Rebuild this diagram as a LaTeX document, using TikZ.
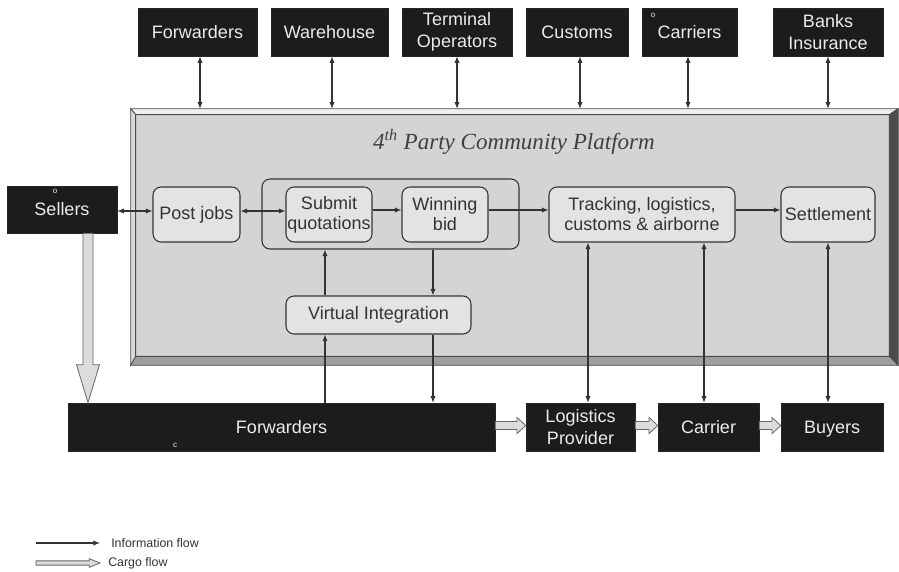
\documentclass[tikz,border=0pt]{standalone}
\usepackage{fontspec}
\setmainfont{Liberation Serif}
\setsansfont{Liberation Sans}
\usetikzlibrary{arrows.meta,calc}

\definecolor{boxdark}{HTML}{1C1C1C}
\definecolor{boxtext}{HTML}{ECECEC}
\definecolor{linegray}{HTML}{333333}
\definecolor{facegray}{HTML}{D4D4D4}
\definecolor{stepfill}{HTML}{E3E3E3}
\definecolor{cargofill}{HTML}{DCDCDC}

\tikzset{
  darkbox/.style={fill=boxdark, draw=black!85, text=boxtext, align=center,
    inner sep=1pt, font=\sffamily\fontsize{13.5}{16}\selectfont},
  stepbox/.style={fill=stepfill, draw=linegray, line width=0.8pt, rounded corners=6pt,
    text=black!80, align=center, inner sep=1pt,
    font=\sffamily\fontsize{13.5}{15}\selectfont},
  info/.style={draw=linegray, line width=0.8pt},
  tip/.style={-{Latex[length=5pt,width=4pt]}},
  bitip/.style={{Latex[length=5pt,width=4pt]}-{Latex[length=5pt,width=4pt]}},
  cargo/.style={fill=cargofill, draw=black!60, line width=0.6pt, line join=miter},
  bevel/.style={draw=black!70, line width=0.6pt},
  tinyglyph/.style={font=\sffamily\fontsize{6}{6}\selectfont, text=boxtext},
  legendtext/.style={anchor=west, font=\sffamily\fontsize{9.3}{11}\selectfont,
    text=black!80, inner sep=0pt},
}

% horizontal cargo arrow from point #1 to point #2
% #3 shaft half height, #4 head half height, #5 head length
\newcommand\cargoflow[5]{%
  \draw[cargo] let \p1=(#1), \p2=(#2) in
    (\x1,\y1+#3) -- (\x2-#5,\y1+#3) -- (\x2-#5,\y1+#4) -- (\x2,\y1)
    -- (\x2-#5,\y1-#4) -- (\x2-#5,\y1-#3) -- (\x1,\y1-#3) -- cycle;}

\begin{document}
\begin{tikzpicture}[x=0.75pt, y=-0.75pt]
\useasboundingbox (0,0) rectangle (899,571);

% ---------- platform with bevelled frame ----------
\node[minimum width=575.25pt, minimum height=192pt, inner sep=0pt] (plat) at (514.5,237) {};
\coordinate (onw) at (plat.north west);
\coordinate (one) at (plat.north east);
\coordinate (osw) at (plat.south west);
\coordinate (ose) at (plat.south east);
\coordinate (inw) at ($(onw)+(5,6)$);
\coordinate (ine) at ($(one)+(-9,6)$);
\coordinate (isw) at ($(osw)+(5,-9)$);
\coordinate (ise) at ($(ose)+(-9,-9)$);
\fill[facegray] (inw) rectangle (ise);
\filldraw[bevel, fill=black!6]  (onw) -- (one) -- (ine) -- (inw) -- cycle;
\filldraw[bevel, fill=black!14] (onw) -- (inw) -- (isw) -- (osw) -- cycle;
\filldraw[bevel, fill=black!70] (one) -- (ose) -- (ise) -- (ine) -- cycle;
\filldraw[bevel, fill=black!38] (osw) -- (isw) -- (ise) -- (ose) -- cycle;
\draw[bevel] (inw) rectangle (ise);

\node[font=\itshape\fontsize{17.3}{20}\selectfont, text=black!75] (title) at (514,142)
  {4\textsuperscript{th} Party Community Platform};

% ---------- partners along the top ----------
\node[darkbox, minimum width=89.25pt, minimum height=36pt] (tfw)  at (197.5,32) {Forwarders};
\node[darkbox, minimum width=87.75pt, minimum height=36pt] (twh)  at (329.5,32) {Warehouse};
\node[darkbox, minimum width=82.5pt,  minimum height=36pt] (tto)  at (457,32)   {Terminal\\Operators};
\node[darkbox, minimum width=76.5pt,  minimum height=36pt] (tcu)  at (577,32)   {Customs};
\node[darkbox, minimum width=71.25pt, minimum height=36pt] (tca)  at (689.5,32) {Carriers};
\node[darkbox, minimum width=82.5pt,  minimum height=36pt] (tbi)  at (828,32)   {Banks\\Insurance};
\node[tinyglyph] (tcamark) at (653,15) {o};

\foreach \n/\x in {tfw/200, twh/332, tto/457, tcu/580, tca/688, tbi/828}
  \draw[info, bitip] (\n.south -| \x,0) -- (plat.north -| \x,0);

% ---------- process steps ----------
\node[darkbox, minimum width=82.5pt, minimum height=35.25pt] (sel) at (62,209.5) {Sellers};
\node[tinyglyph] (selmark) at (55,191) {o};

\node[stepbox, minimum width=192.75pt, minimum height=52.5pt, fill=facegray] (grp) at (390.5,214) {};
\node[stepbox, minimum width=65.25pt, minimum height=41.25pt] (pj)  at (196.5,214.5) {Post jobs};
\node[stepbox, minimum width=64.5pt,  minimum height=41.25pt] (sq)  at (329,214.5)   {Submit\\quotations};
\node[stepbox, minimum width=64.5pt,  minimum height=41.25pt] (wb)  at (445,214.5)   {Winning\\bid};
\node[stepbox, minimum width=139.5pt, minimum height=41.25pt] (trk) at (642,214.5)   {Tracking, logistics,\\customs \& airborne};
\node[stepbox, minimum width=70.5pt,  minimum height=41.25pt] (stl) at (828,214.5)   {Settlement};
\node[stepbox, minimum width=138.75pt, minimum height=28.5pt] (vi) at (378.5,315) {Virtual Integration};

\draw[info, bitip] (sel.east |- 0,211) -- (pj.west |- 0,211);
\draw[info, bitip] (pj.east |- 0,211) -- (sq.west |- 0,211);
\draw[info, tip] (sq.east |- 0,210) -- (wb.west |- 0,210);
\draw[info, tip] (wb.east |- 0,210) -- (trk.west |- 0,210);
\draw[info, tip] (trk.east |- 0,210) -- (stl.west |- 0,210);

\draw[info, tip] (vi.north -| 325,0) -- (grp.south -| 325,0);
\draw[info, tip] (grp.south -| 433,0) -- (vi.north -| 433,0);

% ---------- chain along the bottom ----------
\node[darkbox, minimum width=320.25pt, minimum height=36pt] (bfw) at (281.5,427) {Forwarders};
\node[tinyglyph] (bfwmark) at (175,445) {c};
\node[darkbox, minimum width=81.75pt, minimum height=36pt] (blp) at (580.5,427) {Logistics\\Provider};
\node[darkbox, minimum width=75.75pt, minimum height=36pt] (bca) at (708.5,427) {Carrier};
\node[darkbox, minimum width=76.5pt,  minimum height=36pt, text depth=0pt] (bby) at (832,427) {Buyers};

\draw[info, tip] (bfw.north -| 325,0) -- (vi.south -| 325,0);
\draw[info, tip] (vi.south -| 433,0) -- (bfw.north -| 433,0);
\draw[info, bitip] (trk.south -| 588,0) -- (blp.north -| 588,0);
\draw[info, bitip] (trk.south -| 704,0) -- (bca.north -| 704,0);
\draw[info, bitip] (stl.south -| 828,0) -- (bby.north -| 828,0);

% cargo moving down from the sellers and along the chain
\draw[cargo] let \p1=($(sel.south)+(19.5pt,0)$), \p2=(bfw.north) in
  (\x1-3.75pt,\y1) -- (\x1-3.75pt,\y2+28.5pt) -- (\x1-8.6pt,\y2+28.5pt) -- (\x1,\y2)
  -- (\x1+8.6pt,\y2+28.5pt) -- (\x1+3.75pt,\y2+28.5pt) -- (\x1+3.75pt,\y1) -- cycle;
\cargoflow{$(bfw.east)+(0,-1.5)$}{$(blp.west)+(0,-1.5)$}{3pt}{6pt}{6.5pt}
\cargoflow{$(blp.east)+(0,-1.5)$}{$(bca.west)+(0,-1.5)$}{3pt}{6pt}{6.5pt}
\cargoflow{$(bca.east)+(0,-1.5)$}{$(bby.west)+(0,-1.5)$}{3pt}{6pt}{6.5pt}

% ---------- legend ----------
\coordinate (li0) at (36,543);
\coordinate (li1) at (100,543);
\coordinate (lc0) at (36,563);
\coordinate (lc1) at (100,563);
\draw[info, tip] (li0) -- (li1);
\cargoflow{lc0}{lc1}{1.6pt}{3.2pt}{8pt}
\node[legendtext] (linfo) at (111,543) {Information flow};
\node[legendtext] (lcargo) at (108,563) {Cargo flow};
\end{tikzpicture}
\end{document}
